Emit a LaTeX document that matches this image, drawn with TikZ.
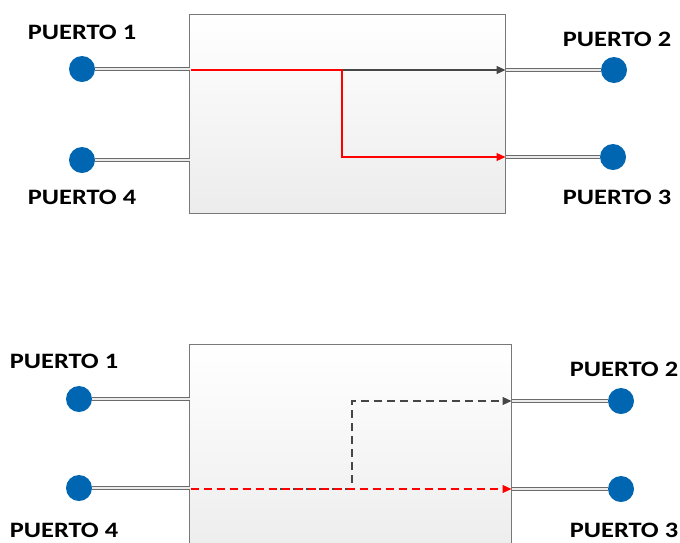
\documentclass[tikz,border=0pt]{standalone}
\usepackage{fontspec}
\setmainfont{Carlito}
\newfontfamily\labfont[FakeStretch=1.2]{Carlito}
\usetikzlibrary{arrows.meta}
\definecolor{portblue}{RGB}{0,102,178}
\definecolor{boxedge}{RGB}{120,120,120}
\definecolor{pathgray}{RGB}{70,70,70}
\tikzset{
  x=1pt,y=-1pt,
  blockbox/.style={draw=boxedge,line width=1.2pt,top color=white,bottom color={rgb,255:red,236;green,236;blue,236}},
  portdot/.style={circle,inner sep=0pt,minimum size=26pt,fill=portblue,draw=none},
  lead/.style={draw=pathgray!80,double={rgb,255:red,235;green,235;blue,235},double distance=1.6pt,line width=0.9pt},
  plabel/.style={font=\labfont\bfseries\fontsize{22}{26}\selectfont,inner sep=0pt},
  redpath/.style={draw=red,line width=1.1pt,-{Triangle[length=9pt,width=8pt]}},
  graypath/.style={draw=pathgray,line width=1.1pt,-{Triangle[length=9pt,width=8pt]}},
  dash pat/.style={dash pattern=on 8pt off 5pt}
}
\begin{document}
\begin{tikzpicture}
\useasboundingbox (0,0) rectangle (680,542);
% ===== Top diagram =====
\path[blockbox] (189.5,14.5) rectangle (505.5,213.5);
\node[portdot] (p1) at (82,69) {};
\node[portdot] (p4) at (82,160) {};
\node[portdot] (p2) at (614,70) {};
\node[portdot] (p3) at (613,157) {};
\coordinate (b1) at (189.5,69);
\coordinate (b4) at (189.5,160);
\coordinate (b2) at (505.5,70);
\coordinate (b3) at (505.5,157);
\draw[lead] (p1.east) -- (b1);
\draw[lead] (p4.east) -- (b4);
\draw[lead] (b2) -- (p2.west);
\draw[lead] (b3) -- (p3.west);
\coordinate (s1) at (342,70);
\draw[graypath] (s1) -- (b2);
\draw[redpath] (190.5,70) -- (s1) |- (b3);
\node[plabel] (l1) at (82,32) {PUERTO 1};
\node[plabel] (l4) at (82,197) {PUERTO 4};
\node[plabel] (l2) at (617,39) {PUERTO 2};
\node[plabel] (l3) at (617,197) {PUERTO 3};
% ===== Bottom diagram =====
\path[blockbox] (189.5,344.5) rectangle (511.5,560);
\node[portdot] (q1) at (79,399) {};
\node[portdot] (q4) at (79,488) {};
\node[portdot] (q2) at (621,401) {};
\node[portdot] (q3) at (621,489) {};
\coordinate (c1) at (189.5,399);
\coordinate (c4) at (189.5,488);
\coordinate (c2) at (511.5,401);
\coordinate (c3) at (511.5,489);
\draw[lead] (q1.east) -- (c1);
\draw[lead] (q4.east) -- (c4);
\draw[lead] (c2) -- (q2.west);
\draw[lead] (c3) -- (q3.west);
\coordinate (t0) at (280,489);
\coordinate (t1) at (352,489);
\draw[graypath,dash pat] (t0) -- (t1) |- (c2);
\draw[redpath,dash pat] (190.5,489) -- (c3);
\node[plabel] (m1) at (64,361) {PUERTO 1};
\node[plabel] (m4) at (64,530) {PUERTO 4};
\node[plabel] (m2) at (624,369) {PUERTO 2};
\node[plabel] (m3) at (624,530) {PUERTO 3};
\end{tikzpicture}
\end{document}
